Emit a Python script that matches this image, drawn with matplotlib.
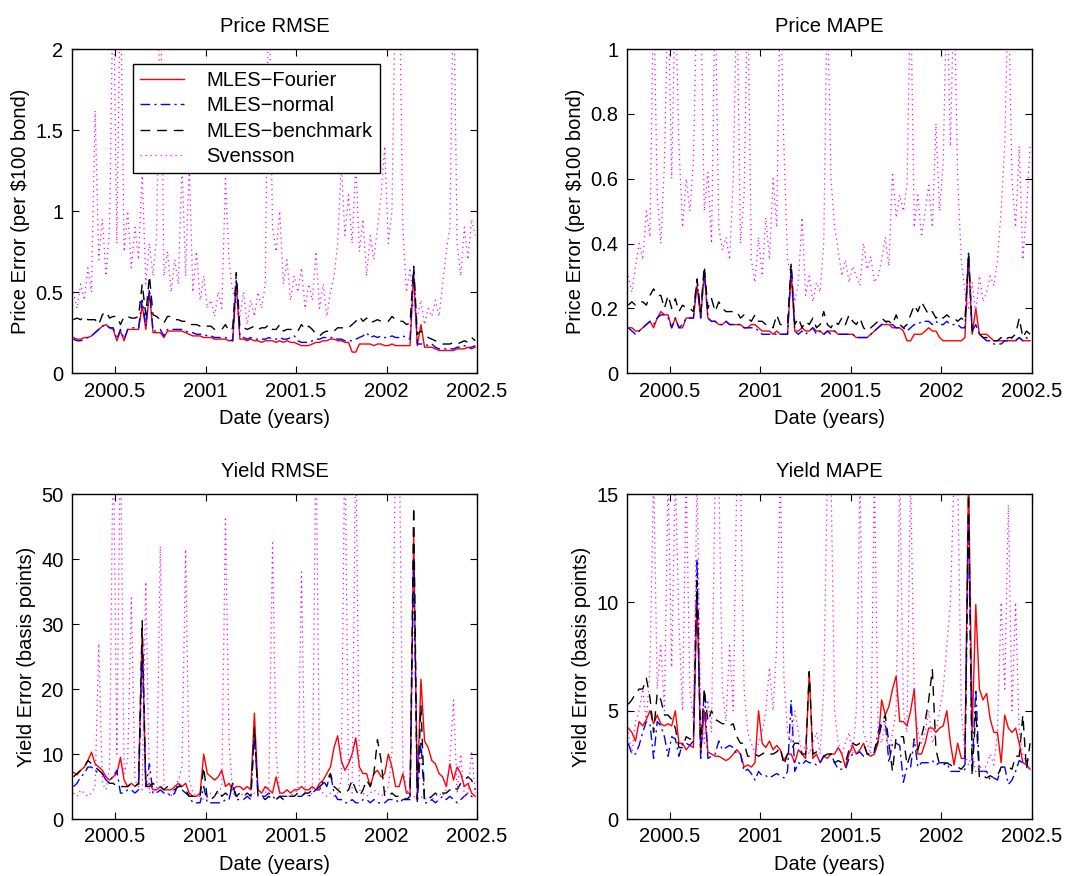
import matplotlib
matplotlib.use("Agg")
import matplotlib.pyplot as plt
import numpy as np
from matplotlib.ticker import FixedLocator, FormatStrFormatter

plt.rcParams['font.family'] = ['Liberation Sans', 'DejaVu Sans']
plt.rcParams['font.size'] = 14.5

# sample dates (years), roughly weekly
dates = 2000.27 + 0.02 * np.arange(112)

# ---- Price RMSE ($ per $100 bond) ----
fourier_price_rmse = [
    0.22, 0.21, 0.21, 0.22, 0.22, 0.23, 0.25, 0.27, 0.29, 0.30,
    0.28, 0.27, 0.20, 0.26, 0.20, 0.27, 0.27, 0.27, 0.27, 0.42,
    0.27, 0.50, 0.25, 0.25, 0.25, 0.22, 0.26, 0.26, 0.26, 0.26,
    0.26, 0.25, 0.24, 0.23, 0.23, 0.23, 0.22, 0.22, 0.22, 0.21,
    0.21, 0.21, 0.21, 0.20, 0.20, 0.55, 0.21, 0.21, 0.20, 0.21,
    0.20, 0.20, 0.19, 0.20, 0.20, 0.20, 0.19, 0.20, 0.19, 0.20,
    0.19, 0.19, 0.18, 0.17, 0.17, 0.17, 0.18, 0.19, 0.19, 0.20,
    0.20, 0.21, 0.21, 0.20, 0.20, 0.19, 0.19, 0.13, 0.13, 0.18,
    0.18, 0.18, 0.18, 0.17, 0.18, 0.18, 0.17, 0.17, 0.18, 0.17,
    0.17, 0.17, 0.17, 0.17, 0.62, 0.17, 0.30, 0.16, 0.16, 0.16,
    0.15, 0.14, 0.14, 0.14, 0.14, 0.14, 0.15, 0.15, 0.15, 0.16,
    0.15, 0.16]
normal_price_rmse = [
    0.21, 0.20, 0.20, 0.21, 0.22, 0.23, 0.25, 0.27, 0.29, 0.30,
    0.28, 0.28, 0.21, 0.27, 0.21, 0.27, 0.28, 0.28, 0.28, 0.45,
    0.29, 0.52, 0.26, 0.26, 0.27, 0.23, 0.27, 0.27, 0.27, 0.27,
    0.27, 0.26, 0.25, 0.25, 0.24, 0.24, 0.24, 0.23, 0.23, 0.22,
    0.22, 0.22, 0.22, 0.21, 0.20, 0.57, 0.23, 0.22, 0.21, 0.22,
    0.21, 0.21, 0.21, 0.21, 0.22, 0.21, 0.21, 0.22, 0.21, 0.21,
    0.22, 0.23, 0.20, 0.19, 0.19, 0.19, 0.20, 0.21, 0.21, 0.22,
    0.22, 0.22, 0.22, 0.21, 0.21, 0.20, 0.20, 0.20, 0.21, 0.22,
    0.23, 0.25, 0.22, 0.23, 0.22, 0.23, 0.22, 0.22, 0.23, 0.22,
    0.22, 0.23, 0.22, 0.21, 0.64, 0.18, 0.18, 0.18, 0.17, 0.18,
    0.16, 0.15, 0.15, 0.15, 0.15, 0.15, 0.16, 0.16, 0.17, 0.16,
    0.16, 0.17]
bench_price_rmse = [
    0.33, 0.34, 0.33, 0.35, 0.33, 0.33, 0.33, 0.30, 0.36, 0.38,
    0.34, 0.35, 0.35, 0.30, 0.35, 0.35, 0.34, 0.34, 0.35, 0.55,
    0.36, 0.60, 0.36, 0.35, 0.33, 0.31, 0.35, 0.35, 0.33, 0.33,
    0.32, 0.32, 0.30, 0.30, 0.30, 0.29, 0.28, 0.29, 0.29, 0.27,
    0.27, 0.27, 0.30, 0.26, 0.28, 0.62, 0.28, 0.28, 0.27, 0.28,
    0.29, 0.27, 0.28, 0.28, 0.30, 0.27, 0.27, 0.30, 0.26, 0.27,
    0.27, 0.27, 0.26, 0.30, 0.27, 0.29, 0.27, 0.24, 0.23, 0.25,
    0.26, 0.25, 0.26, 0.28, 0.28, 0.28, 0.28, 0.30, 0.32, 0.35,
    0.32, 0.34, 0.31, 0.32, 0.33, 0.32, 0.32, 0.32, 0.35, 0.33,
    0.32, 0.32, 0.30, 0.31, 0.66, 0.24, 0.26, 0.24, 0.22, 0.21,
    0.20, 0.19, 0.18, 0.18, 0.18, 0.19, 0.18, 0.19, 0.20, 0.19,
    0.22, 0.20]
svensson_price_rmse = [
    0.50, 0.40, 0.55, 0.45, 0.65, 0.50, 1.62, 0.70, 0.95, 0.60,
    0.90, 2.50, 0.80, 2.50, 0.75, 1.00, 0.65, 0.90, 0.70, 1.25,
    0.55, 0.80, 0.60, 0.85, 2.50, 0.60, 0.75, 0.50, 0.70, 0.55,
    1.30, 0.60, 1.30, 0.50, 0.75, 0.45, 0.60, 0.40, 0.45, 0.35,
    0.50, 0.40, 1.20, 0.70, 0.50, 0.45, 0.35, 0.50, 0.30, 0.45,
    0.35, 0.50, 0.40, 0.55, 2.50, 0.90, 0.75, 1.00, 0.55, 0.70,
    0.45, 0.60, 0.50, 0.65, 0.40, 0.55, 0.45, 0.75, 0.40, 0.55,
    0.35, 0.50, 0.60, 0.80, 1.30, 0.85, 1.10, 0.80, 1.30, 0.75,
    0.95, 0.60, 0.85, 0.70, 0.90, 1.10, 1.40, 0.80, 1.00, 2.50,
    2.50, 0.90, 0.50, 0.65, 0.40, 0.35, 0.45, 0.30, 0.40, 0.35,
    0.45, 0.35, 0.55, 0.75, 0.90, 2.50, 0.80, 0.60, 0.90, 0.70,
    0.95, 0.85]

# ---- Price MAPE ----
fourier_price_mape = [
    0.14, 0.14, 0.13, 0.13, 0.14, 0.15, 0.16, 0.14, 0.17, 0.19,
    0.18, 0.18, 0.14, 0.17, 0.14, 0.14, 0.17, 0.17, 0.17, 0.27,
    0.17, 0.31, 0.17, 0.16, 0.16, 0.15, 0.15, 0.16, 0.15, 0.15,
    0.15, 0.15, 0.14, 0.14, 0.15, 0.15, 0.14, 0.13, 0.13, 0.13,
    0.12, 0.13, 0.12, 0.12, 0.12, 0.31, 0.13, 0.13, 0.14, 0.13,
    0.13, 0.14, 0.13, 0.13, 0.12, 0.13, 0.13, 0.13, 0.12, 0.12,
    0.12, 0.12, 0.12, 0.11, 0.11, 0.11, 0.11, 0.12, 0.13, 0.14,
    0.15, 0.15, 0.15, 0.14, 0.14, 0.14, 0.13, 0.10, 0.10, 0.12,
    0.12, 0.12, 0.13, 0.14, 0.13, 0.13, 0.11, 0.10, 0.10, 0.10,
    0.10, 0.10, 0.10, 0.11, 0.36, 0.12, 0.20, 0.12, 0.12, 0.12,
    0.11, 0.10, 0.10, 0.10, 0.10, 0.10, 0.10, 0.10, 0.11, 0.10,
    0.10, 0.10]
normal_price_mape = [
    0.14, 0.13, 0.12, 0.13, 0.14, 0.15, 0.16, 0.15, 0.17, 0.18,
    0.18, 0.17, 0.14, 0.17, 0.14, 0.15, 0.17, 0.17, 0.17, 0.29,
    0.17, 0.32, 0.17, 0.16, 0.16, 0.15, 0.15, 0.16, 0.15, 0.15,
    0.15, 0.15, 0.14, 0.14, 0.14, 0.14, 0.13, 0.12, 0.12, 0.12,
    0.12, 0.12, 0.12, 0.12, 0.12, 0.33, 0.13, 0.12, 0.13, 0.12,
    0.13, 0.14, 0.12, 0.13, 0.12, 0.13, 0.12, 0.13, 0.12, 0.12,
    0.12, 0.12, 0.12, 0.11, 0.11, 0.11, 0.11, 0.12, 0.13, 0.14,
    0.15, 0.16, 0.15, 0.15, 0.14, 0.14, 0.14, 0.13, 0.14, 0.15,
    0.15, 0.16, 0.16, 0.16, 0.15, 0.16, 0.15, 0.15, 0.16, 0.15,
    0.15, 0.15, 0.14, 0.14, 0.37, 0.13, 0.15, 0.12, 0.11, 0.10,
    0.10, 0.09, 0.09, 0.09, 0.10, 0.10, 0.11, 0.10, 0.11, 0.10,
    0.11, 0.10]
bench_price_mape = [
    0.21, 0.22, 0.21, 0.22, 0.22, 0.21, 0.24, 0.26, 0.24, 0.24,
    0.20, 0.24, 0.20, 0.23, 0.19, 0.21, 0.20, 0.20, 0.19, 0.29,
    0.19, 0.33, 0.20, 0.23, 0.19, 0.22, 0.20, 0.19, 0.19, 0.19,
    0.19, 0.17, 0.18, 0.17, 0.16, 0.18, 0.16, 0.16, 0.15, 0.15,
    0.14, 0.18, 0.15, 0.15, 0.15, 0.34, 0.15, 0.17, 0.14, 0.16,
    0.15, 0.17, 0.14, 0.15, 0.19, 0.15, 0.14, 0.16, 0.15, 0.17,
    0.15, 0.18, 0.16, 0.15, 0.17, 0.14, 0.13, 0.14, 0.15, 0.16,
    0.17, 0.16, 0.16, 0.15, 0.18, 0.15, 0.14, 0.15, 0.18, 0.21,
    0.19, 0.22, 0.20, 0.18, 0.19, 0.17, 0.18, 0.17, 0.18, 0.17,
    0.17, 0.16, 0.17, 0.16, 0.37, 0.13, 0.12, 0.12, 0.11, 0.11,
    0.10, 0.10, 0.10, 0.11, 0.10, 0.11, 0.11, 0.12, 0.17, 0.11,
    0.13, 0.12]
svensson_price_mape = [
    0.30, 0.25, 0.33, 0.40, 0.35, 0.50, 0.42, 1.20, 0.55, 0.40,
    0.65, 1.20, 0.60, 1.20, 0.70, 0.45, 0.60, 0.50, 0.65, 1.20,
    1.20, 0.50, 0.62, 0.40, 1.20, 0.45, 0.38, 0.42, 0.35, 0.60,
    1.20, 0.40, 0.55, 1.20, 0.35, 0.28, 0.42, 0.30, 0.48, 0.35,
    0.60, 0.45, 1.20, 0.70, 0.35, 0.30, 0.22, 0.28, 0.48, 0.24,
    0.30, 0.22, 0.28, 0.25, 0.40, 1.20, 0.60, 0.45, 0.38, 0.30,
    0.35, 0.28, 0.33, 0.30, 0.27, 0.40, 0.32, 0.36, 0.28, 0.30,
    0.35, 0.42, 0.33, 0.62, 0.48, 0.55, 0.50, 0.58, 1.20, 0.45,
    0.55, 0.42, 0.50, 0.58, 0.45, 0.77, 0.50, 0.65, 1.20, 0.70,
    1.20, 0.60, 0.35, 0.25, 0.20, 0.28, 0.18, 0.30, 0.22, 0.25,
    0.30, 0.27, 0.35, 0.50, 0.70, 1.20, 0.60, 0.45, 0.70, 0.35,
    0.50, 0.70]

# ---- Yield RMSE (basis points) ----
fourier_yield_rmse = [
    7.2, 6.8, 7.5, 8.0, 9.0, 10.3, 8.5, 8.0, 7.5, 6.5,
    6.0, 6.5, 7.0, 9.5, 6.0, 5.0, 5.5, 5.0, 5.5, 29.0,
    5.0, 5.5, 4.5, 4.5, 5.0, 4.5, 4.5, 4.5, 5.0, 5.5,
    5.0, 5.5, 4.0, 3.5, 3.5, 4.0, 10.0, 7.0, 6.5, 6.0,
    6.5, 7.5, 5.0, 5.5, 4.5, 5.0, 5.0, 4.5, 5.0, 4.5,
    16.3, 4.5, 4.0, 5.0, 4.5, 4.0, 6.5, 4.0, 4.0, 4.5,
    4.0, 4.5, 4.5, 5.0, 4.5, 4.5, 5.0, 4.5, 5.5, 6.0,
    7.0, 8.0, 11.0, 12.8, 9.0, 7.5, 8.5, 10.0, 12.5, 8.0,
    7.0, 7.0, 5.0, 7.0, 7.5, 6.5, 7.0, 10.0, 8.0, 5.0,
    5.0, 7.0, 4.0, 4.0, 44.0, 4.0, 21.5, 12.0, 11.0, 9.0,
    8.5, 7.0, 6.5, 5.0, 8.5, 6.0, 8.0, 7.0, 5.0, 5.5,
    4.0, 3.5]
normal_yield_rmse = [
    5.0, 5.5, 6.5, 7.0, 8.0, 8.0, 7.5, 7.0, 7.0, 6.0,
    6.0, 6.5, 7.5, 4.0, 4.0, 4.5, 4.5, 4.0, 4.5, 26.0,
    5.0, 8.5, 4.0, 4.0, 4.5, 4.0, 4.0, 3.5, 4.0, 5.5,
    4.5, 4.0, 3.5, 2.5, 2.5, 2.5, 5.0, 2.5, 2.5, 2.5,
    2.5, 2.5, 3.0, 3.0, 5.5, 3.0, 3.0, 3.0, 3.5, 3.0,
    13.0, 3.5, 3.5, 3.5, 4.0, 3.5, 3.0, 3.5, 3.5, 3.5,
    3.5, 3.5, 3.5, 3.5, 4.0, 3.5, 4.0, 4.5, 4.5, 6.0,
    5.0, 7.0, 4.0, 3.0, 3.0, 2.5, 2.5, 3.0, 2.5, 2.5,
    3.0, 3.0, 2.5, 3.0, 2.5, 2.5, 2.5, 3.0, 3.0, 3.0,
    2.5, 3.0, 3.0, 3.0, 40.0, 2.5, 12.0, 2.5, 2.5, 3.0,
    2.5, 3.0, 3.5, 3.0, 3.5, 3.0, 2.5, 3.0, 3.5, 4.0,
    3.5, 3.0]
bench_yield_rmse = [
    6.5, 7.0, 7.5, 8.0, 9.0, 8.5, 8.0, 7.5, 7.0, 6.0,
    5.5, 5.5, 5.0, 5.0, 5.0, 5.0, 5.5, 5.0, 5.5, 30.5,
    5.0, 5.0, 5.5, 5.0, 5.0, 4.5, 5.0, 5.0, 4.5, 5.0,
    5.0, 4.5, 3.5, 3.5, 3.5, 3.5, 8.0, 3.0, 3.0, 3.5,
    4.5, 3.5, 4.0, 3.5, 5.5, 3.5, 4.0, 3.5, 4.0, 3.5,
    14.0, 3.5, 3.5, 3.0, 3.5, 3.0, 3.0, 3.5, 3.0, 3.5,
    3.5, 3.5, 4.0, 3.5, 4.0, 4.0, 4.5, 4.5, 5.0, 5.5,
    6.0, 7.0, 5.0, 4.5, 4.0, 4.0, 4.5, 6.0, 4.5, 3.5,
    4.5, 6.0, 5.0, 7.0, 12.2, 9.0, 3.5, 3.5, 4.0, 3.5,
    3.5, 3.5, 3.0, 3.5, 48.0, 3.0, 17.5, 3.0, 3.0, 3.5,
    4.0, 3.5, 4.0, 4.0, 4.5, 5.0, 4.5, 5.5, 6.0, 6.5,
    6.0, 4.5]
svensson_yield_rmse = [
    4.0, 3.5, 4.5, 4.0, 3.5, 4.0, 5.0, 27.0, 5.5, 4.5,
    8.0, 60.0, 10.0, 60.0, 7.0, 9.0, 34.0, 6.0, 5.0, 4.5,
    36.5, 4.0, 5.0, 4.0, 42.0, 5.0, 4.0, 3.5, 5.0, 6.0,
    8.0, 41.5, 6.0, 4.0, 3.5, 3.5, 3.0, 3.5, 4.0, 3.5,
    4.0, 5.0, 46.5, 12.0, 4.0, 3.5, 3.5, 4.0, 3.5, 3.5,
    4.0, 3.5, 3.5, 4.0, 5.0, 42.5, 10.0, 4.0, 3.5, 3.5,
    3.5, 4.0, 4.5, 38.0, 4.0, 3.5, 4.0, 60.0, 4.5, 4.0,
    3.5, 4.0, 3.5, 4.0, 6.0, 60.0, 5.0, 4.0, 60.0, 4.5,
    4.0, 3.5, 4.0, 4.5, 4.0, 3.5, 4.0, 5.0, 10.0, 60.0,
    60.0, 8.0, 4.5, 3.5, 3.5, 3.0, 3.5, 3.0, 3.5, 3.0,
    3.5, 4.0, 3.5, 4.5, 9.0, 18.3, 4.0, 10.0, 3.5, 4.0,
    10.5, 4.0]

# ---- Yield MAPE (basis points) ----
fourier_yield_mape = [
    4.2, 4.0, 3.6, 4.5, 4.3, 4.6, 5.0, 4.4, 4.8, 4.4,
    4.3, 4.4, 4.3, 5.0, 3.5, 3.5, 3.2, 3.4, 3.3, 10.5,
    3.0, 5.0, 3.1, 3.0, 2.9, 2.9, 2.8, 2.7, 2.8, 3.0,
    3.2, 3.0, 2.4, 2.5, 2.4, 2.6, 5.0, 3.5, 3.3, 3.6,
    3.2, 3.4, 3.2, 2.7, 3.0, 3.0, 2.6, 3.2, 3.0, 2.8,
    6.8, 2.8, 3.0, 2.6, 2.9, 2.8, 3.0, 3.0, 3.3, 3.0,
    2.4, 3.0, 3.4, 3.0, 3.2, 3.5, 3.0, 2.9, 3.0, 3.5,
    5.5, 4.8, 5.2, 6.0, 6.6, 4.5, 4.5, 4.3, 5.0, 6.0,
    3.0, 3.0, 3.5, 4.2, 4.2, 4.0, 4.2, 4.3, 5.0, 3.5,
    2.5, 3.5, 2.8, 2.8, 16.0, 4.0, 9.9, 6.0, 5.5, 5.8,
    4.6, 4.0, 4.0, 2.6, 4.8, 4.2, 4.0, 4.2, 3.5, 2.6,
    2.5, 2.3]
normal_yield_mape = [
    3.5, 3.0, 3.0, 3.4, 4.0, 4.5, 4.4, 2.8, 4.5, 4.3,
    3.8, 2.9, 3.8, 3.7, 2.9, 3.5, 3.5, 3.4, 3.6, 12.0,
    2.8, 6.0, 2.8, 2.9, 3.0, 3.6, 3.2, 3.3, 3.4, 3.3,
    3.0, 3.0, 2.2, 2.3, 2.1, 1.8, 2.2, 2.0, 2.0, 1.9,
    2.0, 2.1, 2.0, 1.9, 2.2, 5.5, 2.2, 2.6, 2.5, 2.7,
    2.6, 2.6, 2.5, 2.6, 2.9, 3.0, 3.0, 2.6, 2.3, 2.3,
    2.3, 2.8, 3.0, 3.0, 3.1, 2.9, 3.0, 3.0, 3.1, 4.0,
    4.5, 4.5, 2.6, 3.5, 3.5, 3.4, 1.7, 2.4, 2.4, 3.7,
    2.4, 2.6, 2.6, 2.6, 2.7, 2.5, 2.6, 2.6, 2.6, 2.2,
    2.2, 2.2, 2.2, 2.3, 14.0, 2.3, 6.0, 2.2, 2.2, 2.2,
    1.8, 1.9, 1.8, 2.4, 2.4, 1.6, 1.8, 2.2, 2.7, 2.6,
    2.7, 2.7]
bench_yield_mape = [
    5.3, 5.5, 5.8, 6.0, 6.0, 6.5, 5.6, 4.0, 5.8, 5.5,
    4.8, 4.8, 4.6, 4.2, 3.3, 3.3, 3.8, 3.7, 3.7, 11.0,
    3.3, 6.0, 4.5, 5.0, 4.6, 4.5, 4.4, 4.4, 4.3, 4.4,
    3.8, 3.5, 3.5, 2.9, 2.9, 3.0, 2.9, 3.0, 3.1, 3.0,
    3.0, 3.1, 3.3, 2.5, 3.0, 3.2, 3.5, 3.5, 3.0, 3.0,
    6.8, 3.0, 3.1, 3.0, 2.9, 3.0, 3.0, 2.6, 2.7, 2.6,
    2.6, 3.2, 3.5, 3.4, 3.5, 3.5, 3.0, 3.0, 3.2, 3.6,
    4.4, 4.8, 3.5, 2.2, 3.8, 3.8, 3.8, 2.5, 3.0, 3.2,
    3.2, 3.8, 4.5, 5.5, 6.9, 3.2, 2.5, 2.5, 2.6, 2.5,
    2.4, 2.4, 2.3, 2.5, 15.0, 2.0, 5.0, 1.9, 2.0, 1.9,
    2.0, 1.9, 2.0, 2.4, 2.4, 2.4, 2.3, 2.9, 2.9, 4.8,
    2.3, 3.5]
svensson_yield_mape = [
    4.0, 3.0, 4.5, 5.0, 6.0, 4.5, 7.0, 16.0, 6.0, 8.0,
    5.0, 16.0, 7.0, 16.0, 9.0, 5.0, 16.0, 6.0, 4.5, 16.0,
    5.0, 3.5, 5.5, 4.0, 16.0, 16.0, 6.0, 4.5, 8.0, 5.0,
    16.0, 16.0, 6.0, 4.0, 3.5, 3.0, 3.5, 4.0, 5.0, 7.0,
    5.0, 8.0, 16.0, 6.5, 4.0, 3.5, 5.0, 4.0, 3.0, 3.5,
    3.0, 3.5, 4.0, 3.0, 6.0, 16.0, 16.0, 5.0, 3.5, 3.0,
    3.5, 4.0, 3.0, 5.0, 16.0, 4.0, 3.5, 3.0, 16.0, 4.0,
    3.5, 4.5, 3.0, 4.0, 5.0, 16.0, 5.0, 4.0, 16.0, 5.5,
    4.0, 3.5, 4.0, 5.0, 3.5, 4.0, 5.0, 6.0, 8.0, 10.0,
    16.0, 16.0, 5.0, 3.0, 2.5, 3.0, 2.2, 2.5, 2.2, 2.5,
    3.0, 2.5, 4.0, 10.0, 6.0, 14.5, 5.0, 10.0, 4.0, 3.0,
    2.5, 2.2]

labels = ['MLES\u2212Fourier', 'MLES\u2212normal', 'MLES\u2212benchmark', 'Svensson']

panels = [
    ('Price RMSE', 'Price Error (per \\$100 bond)', (0, 2), [0, 0.5, 1, 1.5, 2],
     [fourier_price_rmse, normal_price_rmse, bench_price_rmse, svensson_price_rmse]),
    ('Price MAPE', 'Price Error (per \\$100 bond)', (0, 1), [0, 0.2, 0.4, 0.6, 0.8, 1],
     [fourier_price_mape, normal_price_mape, bench_price_mape, svensson_price_mape]),
    ('Yield RMSE', 'Yield Error (basis points)', (0, 50), [0, 10, 20, 30, 40, 50],
     [fourier_yield_rmse, normal_yield_rmse, bench_yield_rmse, svensson_yield_rmse]),
    ('Yield MAPE', 'Yield Error (basis points)', (0, 15), [0, 5, 10, 15],
     [fourier_yield_mape, normal_yield_mape, bench_yield_mape, svensson_yield_mape]),
]

styles = [
    dict(color='#ff0000', linestyle='-', lw=1.0),
    dict(color='#0000ff', linestyle=(0, (7, 3, 1.5, 3)), lw=1.0),
    dict(color='#000000', linestyle=(0, (7, 5)), lw=1.0),
    dict(color='#ff00ff', linestyle=(0, (1, 3)), lw=0.9),
]

fig = plt.figure(figsize=(10.66, 8.76), dpi=100)
positions = [
    [0.0675, 0.574, 0.380, 0.370],
    [0.588, 0.574, 0.380, 0.370],
    [0.0675, 0.065, 0.380, 0.371],
    [0.588, 0.065, 0.380, 0.371],
]

for pos, (title, ylabel, ylim, yticks, series) in zip(positions, panels):
    ax = fig.add_axes(pos)
    for vals, st, lab in zip(series, styles, labels):
        ax.plot(dates, vals, label=lab, **st)
    ax.set_xlim(2000.262, 2002.5)
    ax.set_ylim(*ylim)
    ax.xaxis.set_major_locator(FixedLocator([2000.5, 2001, 2001.5, 2002, 2002.5]))
    ax.xaxis.set_major_formatter(FormatStrFormatter('%g'))
    ax.yaxis.set_major_locator(FixedLocator(yticks))
    ax.yaxis.set_major_formatter(FormatStrFormatter('%g'))
    ax.tick_params(direction='in', top=True, right=True, length=5, width=0.8, pad=6)
    for sp in ax.spines.values():
        sp.set_linewidth(1.0)
    ax.set_title(title, fontsize=14.5, pad=12)
    ax.set_xlabel('Date (years)', labelpad=6)
    ax.set_ylabel(ylabel, labelpad=4)
    if title == 'Price RMSE':
        leg = ax.legend(loc='upper left', bbox_to_anchor=(0.151, 0.954), borderaxespad=0,
                        fancybox=False, framealpha=1, edgecolor='black', handlelength=2.2,
                        labelspacing=0.32, borderpad=0.35, handletextpad=1.1)
        leg.get_frame().set_linewidth(1.0)

fig.savefig('out.png', dpi=100)
